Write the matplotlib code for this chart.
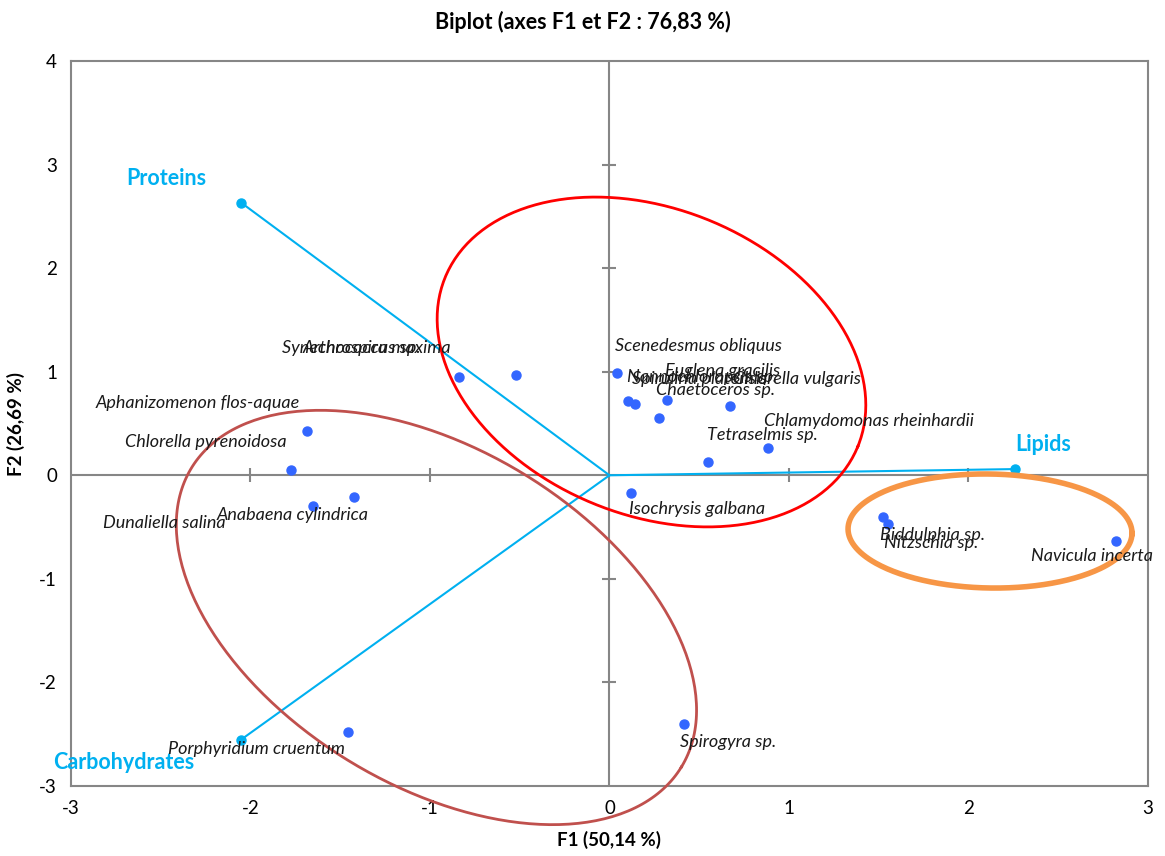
import numpy as np
import matplotlib
matplotlib.use("Agg")
import matplotlib.pyplot as plt

plt.rcParams["font.family"] = ["Lato", "DejaVu Sans"]
plt.rcParams["axes.unicode_minus"] = False

# Variables (loadings)
var_names = ["Proteins", "Lipids", "Carbohydrates"]
var_f1 = [-2.05, 2.26, -2.055]
var_f2 = [2.63, 0.06, -2.556]

# Observations (species scores)
species = [
    "Scenedesmus obliquus", "Nannochloropsis sp.", "Spirulina platensis",
    "Euglena gracilis", "Chaetoceros sp.", "Chlorella vulgaris",
    "Chlamydomonas rheinhardii", "Tetraselmis sp.", "Isochrysis galbana",
    "Spirogyra sp.", "Biddulphia sp.", "Nitzschia sp.", "Navicula incerta",
    "Porphyridium cruentum", "Aphanizomenon flos-aquae",
    "Chlorella pyrenoidosa", "Anabaena cylindrica", "Dunaliella salina",
    "Synechococcus sp.", "Arthrospira maxima",
]
obs_f1 = [0.040, 0.101, 0.142, 0.322, 0.274, 0.670, 0.881, 0.549, 0.120,
          0.413, 1.522, 1.550, 2.822, -1.455, -1.687, -1.776, -1.423,
          -1.650, -0.521, -0.840]
obs_f2 = [0.985, 0.717, 0.686, 0.727, 0.556, 0.669, 0.266, 0.126, -0.168,
          -2.398, -0.400, -0.473, -0.631, -2.481, 0.431, 0.051, -0.213,
          -0.293, 0.968, 0.949]

# label anchors (left edge, vertical centre) as placed in the source chart
lab_f1 = [0.031, 0.097, 0.125, 0.309, 0.259, 0.688, 0.861, 0.543, 0.109,
          0.393, 1.507, 1.529, 2.348, -2.46, -2.86, -2.70, -2.187, -2.822,
          -1.825, -1.708]
lab_f2 = [1.25, 0.95, 0.93, 1.007, 0.824, 0.93, 0.525, 0.39, -0.325,
          -2.575, -0.577, -0.654, -0.779, -2.643, 0.698, 0.322, -0.383,
          -0.461, 1.23, 1.23]

var_lab_pos = [(-2.69, 2.87), (2.26, 0.30), (-3.10, -2.77)]

CYAN = "#00B0F0"
GREY = "#868686"

fig = plt.figure(figsize=(11.65, 8.56), dpi=100)
ax = fig.add_axes([0.0609, 0.0818, 0.9245, 0.8469])
ax.set_xlim(-3, 3)
ax.set_ylim(-3, 4)

# px per data unit (used to draw ellipses in screen-like space)
sx = 0.9245 * 1165 / 6
sy = 0.8469 * 856 / 7


def ellipse_xy(cx, cy, a, b, theta, n=300):
    t = np.linspace(0, 2 * np.pi, n)
    th = np.deg2rad(theta)
    u, v = a * np.cos(t), b * np.sin(t)
    px = u * np.cos(th) - v * np.sin(th)
    py = u * np.sin(th) + v * np.cos(th)
    return cx + px / sx, cy - py / sy


# axes through the origin
ax.axhline(0, color=GREY, lw=1.5, zorder=1)
ax.axvline(0, color=GREY, lw=1.5, zorder=1)
for v in [-2, -1, 1, 2]:
    ax.plot([v], [0], marker="|", ms=10, mew=1.5, color=GREY, zorder=1)
for v in [-2, -1, 1, 2, 3]:
    ax.plot([0], [v], marker="_", ms=10, mew=1.5, color=GREY, zorder=1)

# vectors
for x, y in zip(var_f1, var_f2):
    ax.plot([0, x], [0, y], color=CYAN, lw=1.5, zorder=2)
ax.plot(var_f1, var_f2, "o", color=CYAN, ms=6.5, zorder=3)
for name, (lx, ly) in zip(var_names, var_lab_pos):
    ax.text(lx, ly, name, color=CYAN, fontsize=15.5, fontweight="bold",
            va="center", ha="left", clip_on=False)

# observations
ax.plot(obs_f1, obs_f2, "o", color="#3366FF", ms=6.5, zorder=4)
for name, lx, ly in zip(species, lab_f1, lab_f2):
    ax.text(lx, ly, name, fontsize=13, style="italic", va="center",
            ha="left", color="#1a1a1a", zorder=5)

# group ellipses
ex, ey = ellipse_xy(0.234, 1.094, 223, 153, 22.3)
ax.plot(ex, ey, color="#FF0000", lw=2, clip_on=False, zorder=3)
ex, ey = ellipse_xy(-0.964, -1.373, 287, 168, 31.4)
ax.plot(ex, ey, color="#C0504D", lw=2, clip_on=False, zorder=3)
ex, ey = ellipse_xy(2.12, -0.538, 142, 57, 1.0)
ax.plot(ex, ey, color="#F79646", lw=4, clip_on=False, zorder=3)

for s in ax.spines.values():
    s.set_color(GREY)
    s.set_linewidth(1.5)
ax.set_xticks(range(-3, 4))
ax.set_yticks(range(-3, 5))
ax.tick_params(length=0, labelsize=13.5, pad=10)

ax.set_xlabel("F1 (50,14 %)", fontsize=13.5, fontweight="bold", labelpad=10)
ax.set_ylabel("F2 (26,69 %)", fontsize=13.5, fontweight="bold", labelpad=10)
fig.suptitle("Biplot (axes F1 et F2 : 76,83 %)", fontsize=15.5,
             fontweight="bold", y=0.987)

fig.savefig("out.png", dpi=100)
